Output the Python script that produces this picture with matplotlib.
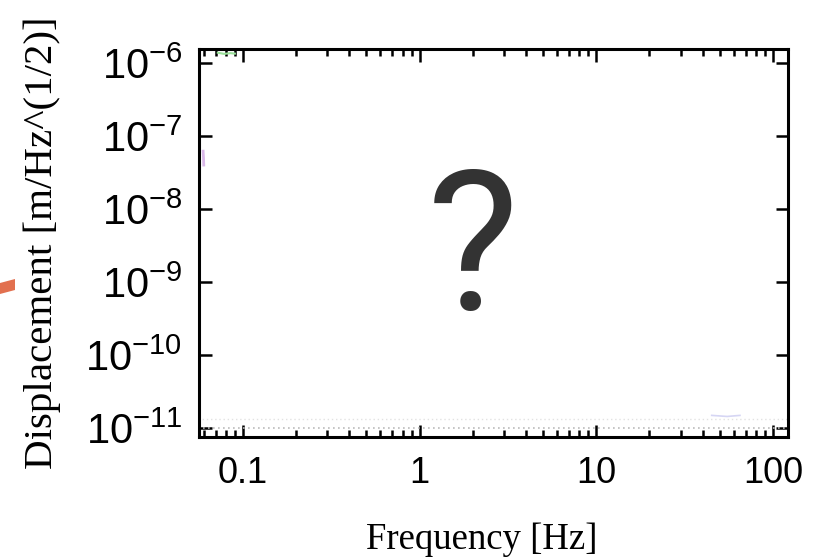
import matplotlib
matplotlib.use("Agg")
import matplotlib.pyplot as plt
from matplotlib.patches import Polygon
import matplotlib.ticker as ticker

# faint leftover traces of the spectra
green_f = [0.072, 0.078, 0.085, 0.090]
green_d = [1.38e-6, 1.33e-6, 1.36e-6, 1.34e-6]
pink_f = [0.0595, 0.0598, 0.0600]
pink_d = [6.2e-8, 5.0e-8, 4.0e-8]
floor_f = [0.056, 120.0]
floor_d = [1.0e-11, 1.0e-11]
floor2_d = [1.35e-11, 1.35e-11]
blue_f = [45.0, 55.0, 65.0]
blue_d = [1.5e-11, 1.45e-11, 1.5e-11]

x_ticks = [0.1, 1, 10, 100]
x_labels = ["0.1", "1", "10", "100"]
y_ticks = [1e-6, 1e-7, 1e-8, 1e-9, 1e-10, 1e-11]
y_labels = [r"$\mathregular{10^{-6}}$", r"$\mathregular{10^{-7}}$",
            r"$\mathregular{10^{-8}}$", r"$\mathregular{10^{-9}}$",
            r"$\mathregular{10^{-10}}$", r"$\mathregular{10^{-11}}$"]

plt.rcParams["mathtext.fontset"] = "custom"
plt.rcParams["mathtext.rm"] = "Liberation Sans"
plt.rcParams["font.family"] = "Liberation Sans"

fig = plt.figure(figsize=(8.17, 5.59), dpi=100)
ax = fig.add_axes([0.2436, 0.2182, 0.7209, 0.6941])

ax.plot(floor_f, floor_d, color="#bbbbbb", lw=1.2, ls=(0, (1, 2)))
ax.plot(floor_f, floor2_d, color="#e2e2e2", lw=1.0, ls=(0, (1, 2)))
ax.plot(green_f, green_d, color="#9be39b", lw=1.5)
ax.plot(pink_f, pink_d, color="#d9b8e8", lw=2)
ax.plot(blue_f, blue_d, color="#d6d6f4", lw=1.2)

ax.set_xscale("log")
ax.set_yscale("log")
ax.set_xlim(0.0564, 121.6)
ax.set_ylim(10 ** -11.12, 10 ** -5.81)

ax.set_xticks(x_ticks)
ax.set_xticklabels(x_labels)
ax.set_yticks(y_ticks)
ax.set_yticklabels(y_labels)
ax.xaxis.set_minor_locator(ticker.LogLocator(base=10, subs=range(2, 10), numticks=20))
ax.xaxis.set_minor_formatter(ticker.NullFormatter())
ax.yaxis.set_minor_locator(ticker.NullLocator())

ax.tick_params(which="both", direction="in", top=True, right=True,
               colors="black", width=1.8)
ax.tick_params(which="major", length=9, pad=14)
ax.tick_params(which="minor", length=5)
ax.tick_params(axis="x", which="major", labelsize=26)
ax.tick_params(axis="y", which="major", labelsize=30, pad=12)
for s in ax.spines.values():
    s.set_linewidth(2.2)

ax.set_xlabel("Frequency [Hz]", family="Liberation Serif", fontsize=26.5)
ax.set_ylabel("Displacement [m/Hz^(1/2)]", family="Liberation Serif", fontsize=29.5)
ax.xaxis.set_label_coords(0.48, -0.22)
ax.yaxis.set_label_coords(-0.235, 0.5)

ax.text(0.465, 0.465, "?", transform=ax.transAxes, ha="center", va="center",
        fontsize=140, color="#333333", family="Roboto")

# edge of the pointer arrow at the left margin
fig.patches.append(Polygon([(0, 1 - 283 / 559), (15 / 817, 1 - 279 / 559),
                            (15 / 817, 1 - 290 / 559), (0, 1 - 294 / 559)],
                           closed=True, transform=fig.transFigure,
                           facecolor="#e2704f", edgecolor="none"))

fig.savefig("out.png", dpi=100)
